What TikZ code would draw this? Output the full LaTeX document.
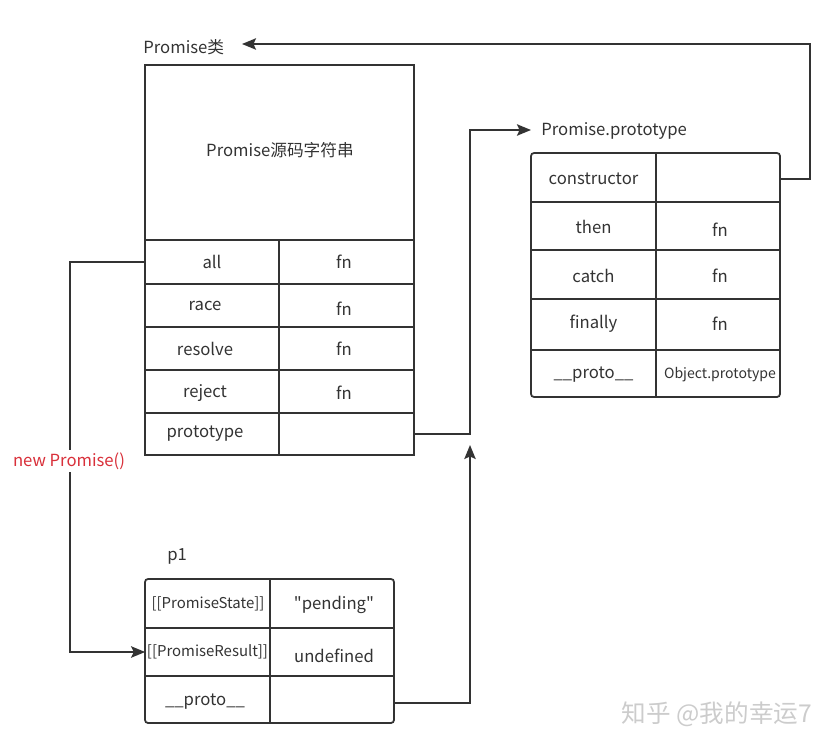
\documentclass[tikz,border=0pt]{standalone}
\usepackage{fontspec}
\setmainfont{Noto Sans CJK SC}[Ligatures=TeXOff]
\usetikzlibrary{arrows.meta}
\newlength\pxu
\setlength\pxu{0.02cm}
\definecolor{linegray}{HTML}{333333}
\definecolor{newred}{HTML}{D9303A}
\begin{document}
\begin{tikzpicture}[x=0.02cm, y=-0.02cm,
                every node/.style={text=linegray, inner sep=0pt, font=\fontsize{9.5}{11}\selectfont},
                box_style/.style={draw=linegray, line width=1pt},
                link_style/.style={draw=linegray, line width=1pt, -{Stealth[length=8pt,width=6.5pt,inset=1.5pt]}}]
                \tikzset{cls cell/.style={minimum width=134\pxu, minimum height=43\pxu},
                         proto cell/.style={minimum width=124\pxu, minimum height=49\pxu},
                         p1 cell/.style={minimum width=124\pxu, minimum height=48\pxu}}
                \useasboundingbox (0,0) rectangle (835,750);
                % Promise class
                \node[anchor=west] (clslabel) at (143,47) {Promise类};
                \draw[box_style] (145,65) rectangle (414,455);
                \foreach \y in {240,284,327,370,413}
                    \draw[box_style] (145,\y) -- (414,\y);
                \draw[box_style] (279,240) -- (279,455);
                \node (src) at (280,150) {Promise源码字符串};
                \node[cls cell] (allkey) at (212,262) {all};
                \node (allval) at (344,262) {fn};
                \node (racekey) at (205,305.5) {race};
                \node (raceval) at (344,309) {fn};
                \node (resolvekey) at (205,349) {resolve};
                \node (resolveval) at (344,349) {fn};
                \node (rejectkey) at (205,393) {reject};
                \node (rejectval) at (344,393) {fn};
                \node (clsprotokey) at (205,434) {prototype};
                \node[cls cell] (clsprotoval) at (346.5,434) {};
                % Promise.prototype
                \node[anchor=west] (protolabel) at (541,131) {Promise.prototype};
                \draw[box_style, rounded corners=3\pxu] (531,153) rectangle (780,397);
                \foreach \y in {202,250,299,350}
                    \draw[box_style] (531,\y) -- (780,\y);
                \draw[box_style] (656,153) -- (656,397);
                \node (ctorkey) at (593.5,179) {constructor};
                \node[proto cell] (ctorval) at (718,179) {};
                \node (thenkey) at (593.5,227) {then};
                \node (thenval) at (720,230) {fn};
                \node (catchkey) at (593.5,276) {catch};
                \node (catchval) at (720,276) {fn};
                \node (finallykey) at (593.5,324) {finally};
                \node (finallyval) at (720,324) {fn};
                \node (protoprotokey) at (593.5,375) {\_\_proto\_\_};
                \node[font=\fontsize{8}{10}\selectfont] (protoprotoval) at (720,375) {Object.prototype};
                % p1
                \node[anchor=west] (p1label) at (167,556) {p1};
                \draw[box_style, rounded corners=3\pxu] (145,579) rectangle (394,723);
                \foreach \y in {628,676}
                    \draw[box_style] (145,\y) -- (394,\y);
                \draw[box_style] (270,579) -- (270,723);
                \node[font=\fontsize{8.5}{10}\selectfont] (statekey) at (208,604) {[[PromiseState]]};
                \node (stateval) at (334,605) {"pending"};
                \node[p1 cell, font=\fontsize{8.5}{10}\selectfont] (resultkey) at (207.5,652) {[[PromiseResult]]};
                \node (resultval) at (334,656) {undefined};
                \node (p1protokey) at (205,702) {\_\_proto\_\_};
                \node[p1 cell] (p1protoval) at (332,703) {};
                % links
                \coordinate (clsin) at (242,44);
                \coordinate (protoin) at (531,130);
                \coordinate (protoup) at (470,445);
                \draw[link_style] (ctorval.east) -| (810,44) -- (clsin);
                \draw[link_style] (clsprotoval.east) -| (470,130) -- (protoin);
                \draw[link_style] (p1protoval.east) -| (protoup);
                \draw[link_style] (allkey.west) -- (70,262) |- (resultkey.west);
                \node[text=newred, fill=white, inner sep=1.5pt] (newlabel) at (69,461) {new Promise()};
                \node[text=gray!40, font=\fontsize{14}{16}\selectfont] (mark) at (717,714) {知乎 @我的幸运7};
            \end{tikzpicture}
\end{document}
